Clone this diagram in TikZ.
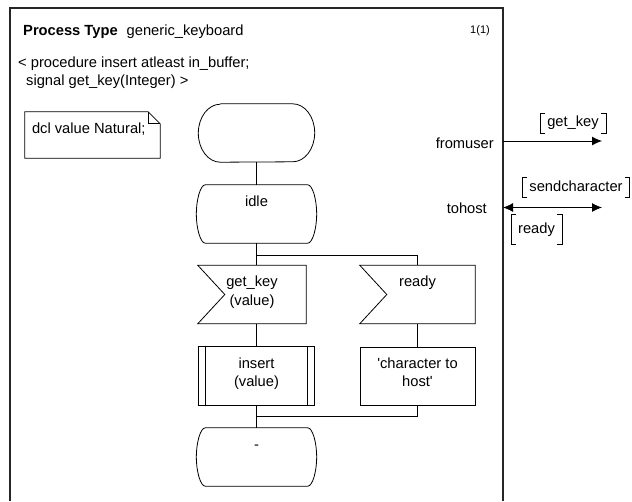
\documentclass[tikz,border=0pt]{standalone}
\usepackage{fontspec}
\setmainfont{Liberation Sans}
\usetikzlibrary{arrows.meta, positioning, calc}
\tikzset{
	sdl/.style={line width=0.8pt},
	flow/.style={line width=0.8pt},
	symbol/.style={inner sep=0pt, minimum height=58pt},
	siglist/.style={inner xsep=7pt, inner ysep=3pt, text height=10.5pt, text depth=3pt},
	channel/.style={line width=0.9pt},
	>={Latex[length=10pt,width=9pt]}
}
\newcommand{\symtext}[2]{\parbox[t][58pt][t]{#1}{\centering\rule{0pt}{21pt}#2}}
\newcommand{\sdlstate}[1]{%
	\draw[sdl] ([xshift=9pt]#1.north west) -- ([xshift=-9pt]#1.north east)
	.. controls ([xshift=-4pt]#1.north east) and ([yshift=14pt]#1.east) .. (#1.east)
	.. controls ([yshift=-14pt]#1.east) and ([xshift=-4pt]#1.south east) .. ([xshift=-9pt]#1.south east)
	-- ([xshift=9pt]#1.south west)
	.. controls ([xshift=4pt]#1.south west) and ([yshift=-14pt]#1.west) .. (#1.west)
	.. controls ([yshift=14pt]#1.west) and ([xshift=4pt]#1.north west) .. cycle;}
\newcommand{\sigbrackets}[1]{%
	\draw[sdl] ([xshift=5pt]#1.north west) -- (#1.north west) -- (#1.south west) -- ([xshift=5pt]#1.south west);
	\draw[sdl] ([xshift=-5pt]#1.north east) -- (#1.north east) -- (#1.south east) -- ([xshift=-5pt]#1.south east);}

\begin{document}
\begin{tikzpicture}[x=1pt, y=-1pt, font=\fontsize{14.7}{18.5}\selectfont]
	% PAGE SIZE
	\useasboundingbox (0,0) rectangle (632,501);
	
	% Frame
	\draw[line width=1.1pt, black!85] (10,501) -- (10,8) -- (503,8) -- (503,501);
	
	% Heading
	\node[anchor=base west, inner sep=0pt] (heading) at (23,35.5) {\textbf{Process Type}\hspace{9pt}generic\_keyboard};
	\node[anchor=base east, inner sep=0pt, font=\fontsize{11}{13}\selectfont] (page) at (490,33) {1(1)};
	\node[anchor=base west, inner sep=0pt] (params1) at (18,67) {< procedure insert atleast in\_buffer;};
	\node[anchor=base west, inner sep=0pt] (params2) at (26,85) {signal get\_key(Integer) >};
	
	% Text symbol
	\node[symbol, minimum height=46pt] (dcl) at (92.5,135)
	{\parbox[t][46pt][t]{135pt}{\hspace*{7pt}\rule{0pt}{21pt}dcl value Natural;}};
	\draw[sdl] (dcl.north west) -- ([xshift=-12pt]dcl.north east) -- ([yshift=-12pt]dcl.north east)
	-- (dcl.south east) -- (dcl.south west) -- cycle;
	\draw[sdl] ([xshift=-12pt]dcl.north east) |- ([yshift=-12pt]dcl.north east);
	
	% Start
	\node[symbol, minimum width=116pt] (start) at (256.5,133) {};
	\draw[sdl] ([xshift=22pt]start.north west) -- ([xshift=-22pt]start.north east)
	arc[start angle=90, end angle=-90, x radius=22pt, y radius=29pt]
	-- ([xshift=22pt]start.south west)
	arc[start angle=270, end angle=90, x radius=22pt, y radius=29pt];
	
	% States
	\node[symbol] (idle) at (256.5,214) {\symtext{120pt}{idle}};
	\sdlstate{idle}
	\node[symbol] (dash) at (256.5,457) {\symtext{120pt}{-}};
	\sdlstate{dash}
	
	% Inputs
	\node[symbol] (getkey) at (252,294.5) {\symtext{108pt}{get\_key\\(value)}};
	\draw[sdl] (getkey.north west) -- (getkey.north east) -- (getkey.south east)
	-- (getkey.south west) -- ([xshift=27pt]getkey.west) -- cycle;
	\node[symbol] (ready) at (417.5,294.5) {\symtext{115pt}{ready}};
	\draw[sdl] (ready.north west) -- (ready.north east) -- (ready.south east)
	-- (ready.south west) -- ([xshift=27pt]ready.west) -- cycle;
	
	% Procedure call and task
	\node[symbol] (insert) at (256.5,376) {\symtext{116pt}{insert\\(value)}};
	\draw[sdl] (insert.north west) rectangle (insert.south east);
	\draw[sdl] ([xshift=7pt]insert.north west) -- ([xshift=7pt]insert.south west);
	\draw[sdl] ([xshift=-7pt]insert.north east) -- ([xshift=-7pt]insert.south east);
	\node[symbol, draw, sdl] (task) at (417.5,376)
	{\symtext{115pt}{\textquotesingle character to\\host\textquotesingle}};
	
	% Flow lines
	\coordinate (split) at (256.5,255);
	\coordinate (join) at (256.5,416);
	\draw[flow] (start.south) -- (idle.north);
	\draw[flow] (idle.south) -- (split) -| (ready.north);
	\draw[flow] (split) -- (split |- getkey.north);
	\draw[flow] (split |- getkey.south) -- (insert.north);
	\draw[flow] (ready.south) -- (task.north);
	\draw[flow] (insert.south) -- (join) -- (dash.north);
	\draw[flow] (task.south) |- (join);
	
	% Channel fromuser
	\coordinate (fromuser-gate) at (503,141);
	\coordinate (fromuser-end) at (602,141);
	\node[anchor=base east, inner sep=0pt] (fromuser) at (494,148) {fromuser};
	\draw[channel, ->] (fromuser-gate) -- (fromuser-end);
	\node[siglist] (sig-getkey) at (573,123) {get\_key};
	\sigbrackets{sig-getkey}
	
	% Channel tohost
	\coordinate (tohost-gate) at (503,207.5);
	\coordinate (tohost-end) at (602,207.5);
	\node[anchor=base east, inner sep=0pt] (tohost) at (487,213) {tohost};
	\draw[channel, <->] (tohost-gate) -- (tohost-end);
	\node[siglist] (sig-send) at (576,187.5) {sendcharacter};
	\sigbrackets{sig-send}
	\node[siglist, minimum height=29pt] (sig-ready) at (536.5,229.5) {ready};
	\sigbrackets{sig-ready}
\end{tikzpicture}
\end{document}
